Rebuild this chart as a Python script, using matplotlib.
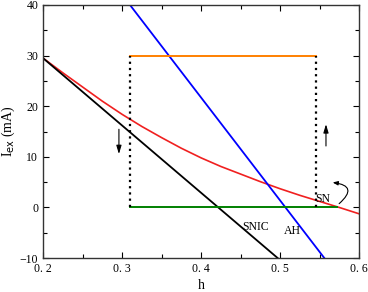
import matplotlib
matplotlib.use("Agg")
import matplotlib.pyplot as plt
from matplotlib.ticker import MultipleLocator

# values
snic_h = [0.2, 0.497]
snic_i = [29.5, -10.0]

ah_h = [0.310, 0.556]
ah_i = [40.0, -10.0]

sn_h = [0.2, 0.225, 0.25, 0.275, 0.30, 0.325, 0.35, 0.375, 0.40,
        0.425, 0.45, 0.475, 0.50, 0.525, 0.55, 0.575, 0.6]
sn_i = [29.5, 26.6, 23.8, 21.0, 18.4, 16.0, 13.8, 11.7, 9.8,
        8.1, 6.6, 5.1, 3.7, 2.4, 1.2, 0.0, -1.25]

upper_h = [0.310, 0.545]
upper_i = [30.0, 30.0]
lower_h = [0.310, 0.572]
lower_i = [0.0, 0.0]

jump_h = [0.310, 0.545]

font = "Liberation Serif"
plt.rcParams["font.family"] = font

fig = plt.figure(figsize=(3.68, 2.92), dpi=100)
ax = fig.add_axes([0.117, 0.116, 0.859, 0.867])

ax.plot(sn_h, sn_i, color="#f02020", lw=1.2)
ax.plot(snic_h, snic_i, color="black", lw=1.3)
ax.plot(ah_h, ah_i, color="#0000ff", lw=1.3)
ax.plot(upper_h, upper_i, color="#ff8000", lw=1.4)
ax.plot(lower_h, lower_i, color="#008000", lw=1.4)
for h in jump_h:
    ax.plot([h, h], [0, 30], color="black", lw=1.6, linestyle=(0, (1, 1.8)))

ax.annotate("", xy=(0.296, 10.0), xytext=(0.296, 16.0),
            arrowprops=dict(arrowstyle="-|>,head_length=0.5,head_width=0.15", color="black", lw=0.8))
ax.annotate("", xy=(0.558, 17.0), xytext=(0.558, 11.6),
            arrowprops=dict(arrowstyle="-|>,head_length=0.5,head_width=0.15", color="black", lw=0.8))
ax.annotate("", xy=(0.563, 5.0), xytext=(0.572, 0.4),
            arrowprops=dict(arrowstyle="-|>,head_length=0.3,head_width=0.12", color="black", lw=0.8,
                            connectionstyle="arc3,rad=1.2"))

ax.text(0.452, -4.4, "SNIC", fontsize=8.5)
ax.text(0.505, -5.3, "AH", fontsize=8.5)
ax.text(0.545, 1.0, "SN", fontsize=8.5)

ax.set_xlim(0.2, 0.6)
ax.set_ylim(-10, 40)
ax.xaxis.set_major_locator(MultipleLocator(0.1))
ax.xaxis.set_minor_locator(MultipleLocator(0.05))
ax.yaxis.set_major_locator(MultipleLocator(10))
ax.yaxis.set_minor_locator(MultipleLocator(5))
ax.set_xticklabels([f"{v:.1f}".replace(".", ". ") for v in ax.get_xticks()])
ax.tick_params(which="both", direction="in", top=True, right=True, labelsize=8.5, width=0.8)
ax.tick_params(which="major", length=4)
ax.tick_params(which="minor", length=3)
for s in ax.spines.values():
    s.set_linewidth(1.0)
    s.set_color("#333333")

ax.set_xlabel("h", fontsize=10, labelpad=3)
ax.set_ylabel(r"I$_{\rm ex}$ (mA)", fontsize=10, labelpad=2)

fig.savefig("out.png", dpi=100)
